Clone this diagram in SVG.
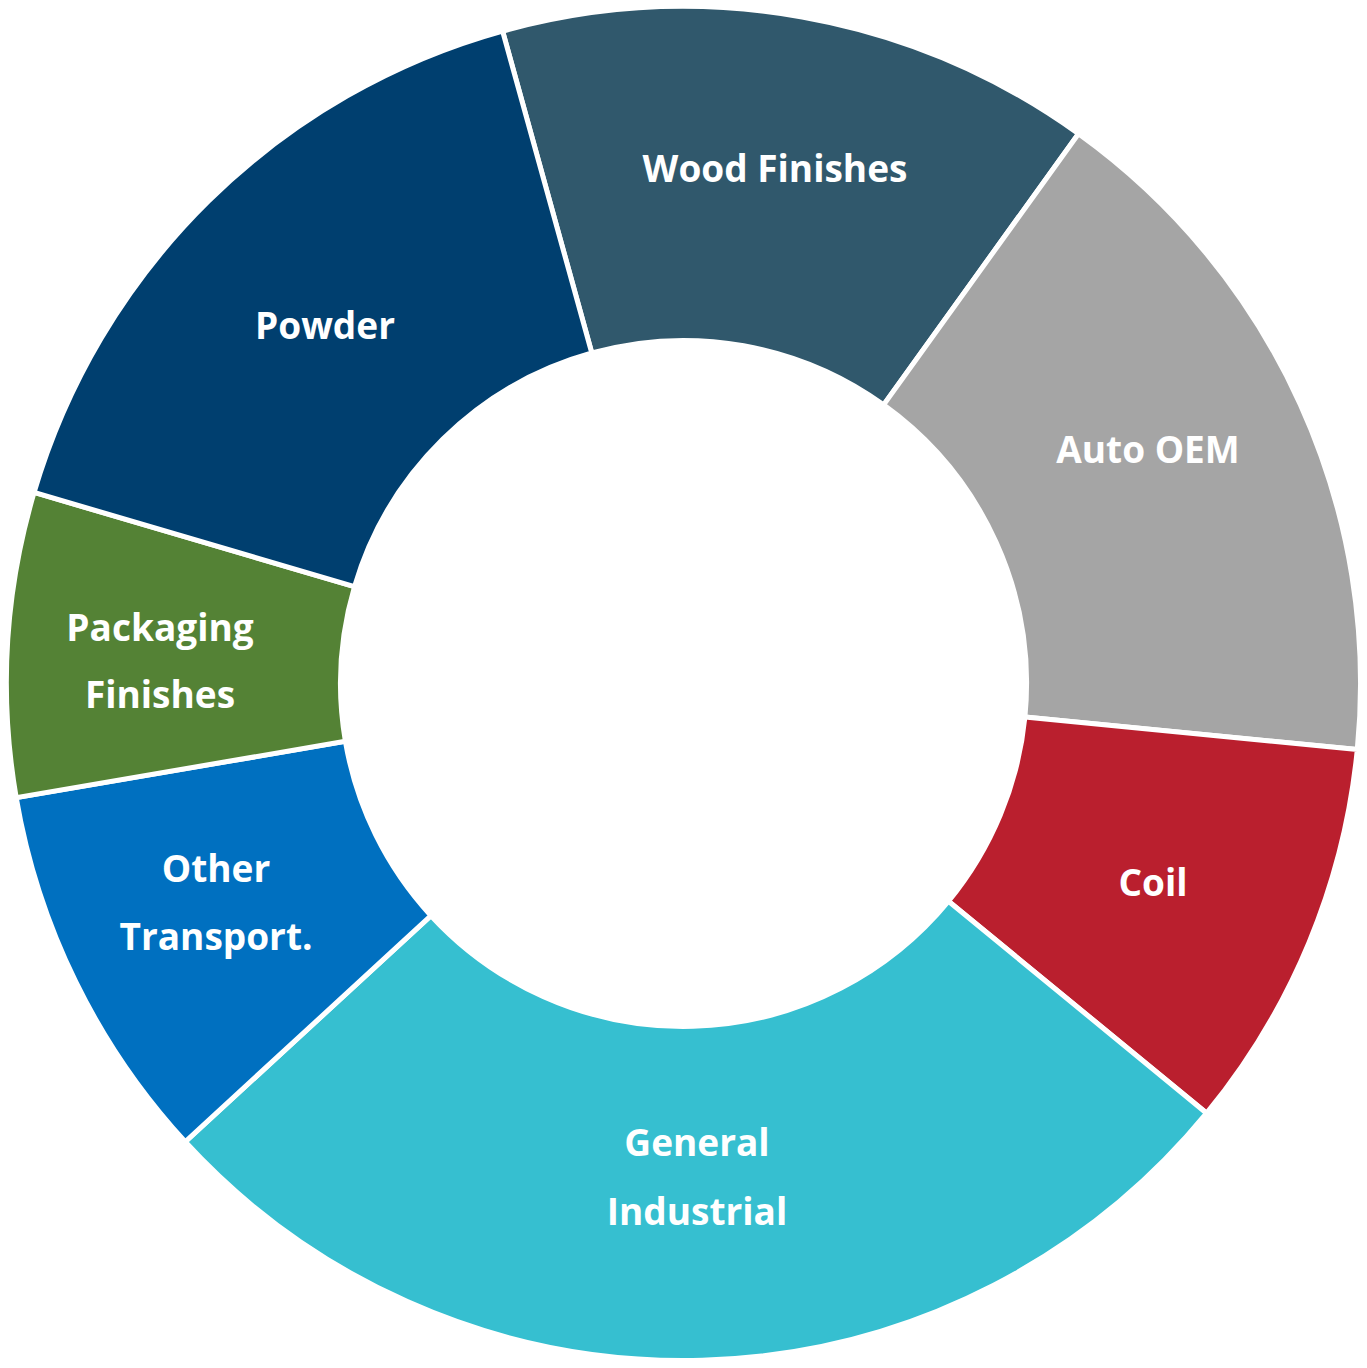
<svg xmlns="http://www.w3.org/2000/svg" width="1367" height="1368" viewBox="0 0 1367 1368">
<style>
.s{stroke:#fff;stroke-width:5;stroke-linejoin:miter}
.t{font-family:"Open Sans","Liberation Sans",sans-serif;font-weight:bold;font-size:37px;fill:#fff;text-anchor:middle}
</style>
<rect width="1367" height="1368" fill="#fff"/>
<g id="wood"><path class="s" fill="#30586C" d="M502.6,31.1 A677,677 0 0 1 1078.5,133.7 L883.6,404.9 A343,343 0 0 0 591.8,353.0 Z"/><text class="t" x="775" y="182">Wood Finishes</text></g>
<g id="auto"><path class="s" fill="#A5A5A5" d="M1078.5,133.7 A677,677 0 0 1 1357.3,749.6 L1024.9,717.0 A343,343 0 0 0 883.6,404.9 Z"/><text class="t" x="1148" y="463">Auto OEM</text></g>
<g id="coil"><path class="s" fill="#BA1F2E" d="M1357.3,749.6 A677,677 0 0 1 1206.6,1113.2 L948.5,901.2 A343,343 0 0 0 1024.9,717.0 Z"/><text class="t" x="1153" y="896">Coil</text></g>
<g id="general"><path class="s" fill="#36BFD0" d="M1206.6,1113.2 A677,677 0 0 1 185.2,1141.8 L431.0,915.7 A343,343 0 0 0 948.5,901.2 Z"/><text class="t" x="697" y="1156">General</text><text class="t" x="697" y="1225">Industrial</text></g>
<g id="other"><path class="s" fill="#0070C0" d="M185.2,1141.8 A677,677 0 0 1 16.2,797.6 L345.4,741.3 A343,343 0 0 0 431.0,915.7 Z"/><text class="t" x="216" y="882">Other</text><text class="t" x="216" y="950">Transport.</text></g>
<g id="packaging"><path class="s" fill="#548235" d="M16.2,797.6 A677,677 0 0 1 34.1,492.4 L354.5,586.7 A343,343 0 0 0 345.4,741.3 Z"/><text class="t" x="160" y="641">Packaging</text><text class="t" x="160" y="708">Finishes</text></g>
<g id="powder"><path class="s" fill="#003F6F" d="M34.1,492.4 A677,677 0 0 1 502.6,31.1 L591.8,353.0 A343,343 0 0 0 354.5,586.7 Z"/><text class="t" x="325" y="339">Powder</text></g>
<g id="connectors"/>
</svg>
